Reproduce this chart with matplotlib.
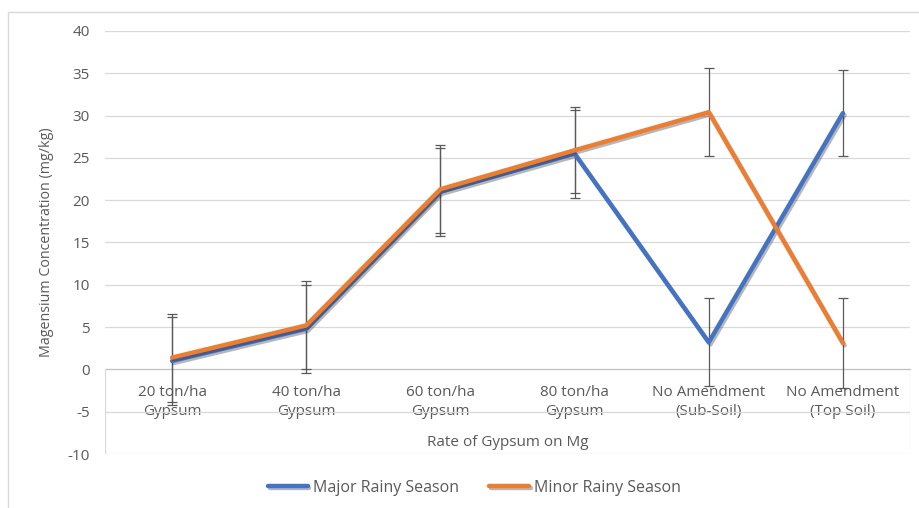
import matplotlib.pyplot as plt
import matplotlib.patheffects as pe
from matplotlib.patches import Rectangle
from matplotlib.transforms import blended_transform_factory
import numpy as np

# Gypsum rates (categories)
categories = ['20 ton/ha\nGypsum', '40 ton/ha\nGypsum', '60 ton/ha\nGypsum',
              '80 ton/ha\nGypsum', 'No Amendment\n(Sub-Soil)', 'No Amendment\n(Top Soil)']

# Mg concentration (mg/kg)
major_rainy = [1.0, 4.8, 21.0, 25.5, 3.2, 30.3]
minor_rainy = [1.4, 5.2, 21.3, 25.9, 30.4, 3.1]
major_err = [5.2, 5.2, 5.2, 5.2, 5.2, 5.1]
minor_err = [5.2, 5.2, 5.2, 5.1, 5.2, 5.3]

blue = '#4472C4'
orange = '#ED7D31'
grey_txt = '#595959'

plt.rcParams['font.family'] = ['Open Sans', 'DejaVu Sans']
plt.rcParams['axes.unicode_minus'] = False

fig = plt.figure(figsize=(9.19, 5.08), dpi=100)
ax = fig.add_axes([105/919, 1 - 454/508, (910-105)/919, (454-31)/508])

x = np.arange(len(categories))
shadow = [pe.SimpleLineShadow(offset=(1.2, -1.5), shadow_color='#333333', alpha=0.35), pe.Normal()]

ax.errorbar(x, major_rainy, yerr=major_err, fmt='none', ecolor=grey_txt, elinewidth=0.9,
            capsize=3.5, capthick=0.9, zorder=2)
ax.errorbar(x, minor_rainy, yerr=minor_err, fmt='none', ecolor=grey_txt, elinewidth=0.9,
            capsize=3.5, capthick=0.9, zorder=2)
ax.plot(x, major_rainy, color=blue, lw=3.2, solid_capstyle='round', solid_joinstyle='round',
        label='Major Rainy Season', path_effects=shadow, zorder=3)
ax.plot(x, minor_rainy, color=orange, lw=3.2, solid_capstyle='round', solid_joinstyle='round',
        label='Minor Rainy Season', path_effects=shadow, zorder=4)

ax.set_xlim(-0.5, len(categories) - 0.5)
ax.set_ylim(-10, 40)
ax.set_yticks(np.arange(-10, 41, 5))
ax.yaxis.grid(True, color='#D9D9D9', lw=0.9)
ax.set_axisbelow(True)
ax.tick_params(axis='y', length=0, pad=11, labelsize=11, labelcolor=grey_txt)

for s in ['top', 'right', 'left']:
    ax.spines[s].set_visible(False)
ax.spines['bottom'].set_position(('data', 0))
ax.spines['bottom'].set_color('#BFBFBF')
ax.spines['bottom'].set_zorder(1)
ax.set_xticks(x)
ax.set_xticklabels(categories, linespacing=1.4)
ax.tick_params(axis='x', length=0, pad=11, labelsize=11, labelcolor=grey_txt)

# box round the category label area
ax.axvline(-0.5, ymin=0, ymax=0.2, color='#D9D9D9', lw=0.9)
ax.axvline(len(categories) - 0.5, ymin=0, ymax=0.2, color='#D9D9D9', lw=0.9)

trans = blended_transform_factory(ax.transAxes, ax.transData)
ax.text(0.5, -8.6, 'Rate of Gypsum on Mg', transform=trans, ha='center', va='center',
        fontsize=11, color=grey_txt)
fig.text(47/919, 1 - 242/508, 'Magensium Concentration (mg/kg)', rotation=90,
         ha='center', va='center', fontsize=10.3, color=grey_txt)

fig.legend(loc='center', bbox_to_anchor=(0.516, 1 - 488/508), ncol=2, frameon=False,
           fontsize=11.5, handlelength=2.5, handletextpad=0.3, columnspacing=1.9,
           labelcolor=grey_txt)

# chart border
fig.patches.append(Rectangle((8/919, -0.1), 1.2, 1.1 - 12/508, transform=fig.transFigure,
                             fill=False, edgecolor='#D9D9D9', lw=1))

fig.savefig('out.png', dpi=100)
